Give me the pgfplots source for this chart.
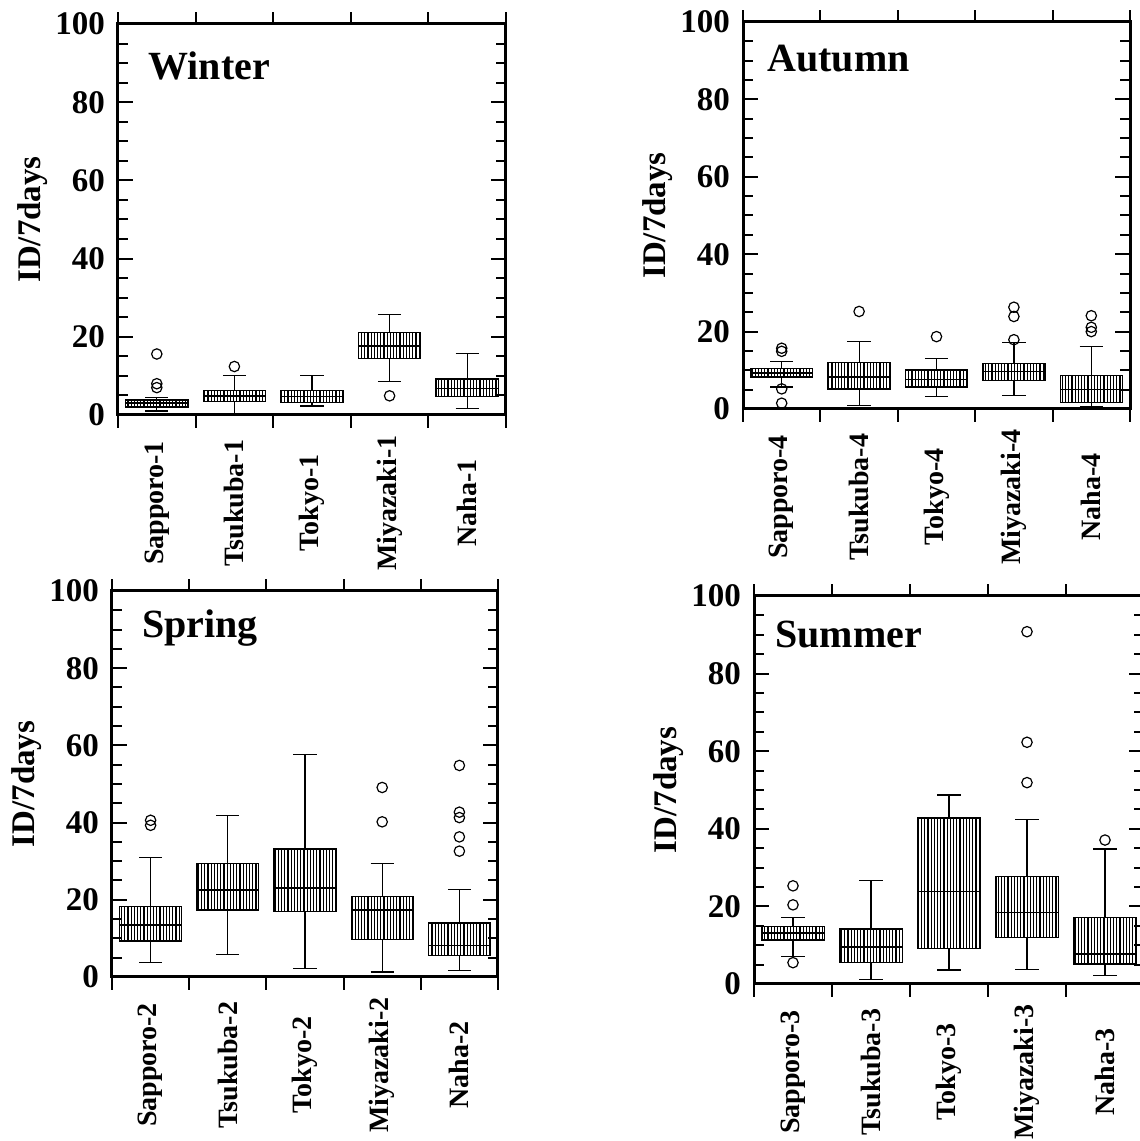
\documentclass[border=0pt]{standalone}
\usepackage{fontspec}
\setmainfont{Liberation Serif}
\usepackage{pgfplots}
\pgfplotsset{compat=1.18}
\usepgfplotslibrary{statistics}
\usetikzlibrary{patterns.meta}

\tikzset{ttl/.style={anchor=base west, inner sep=0pt, font=\bfseries\fontsize{20}{20}\selectfont}}
\pgfplotsset{
  panel/.style={
    scale only axis, anchor=south west,
    xmin=0.5, xmax=5.5, ymin=0, ymax=100,
    clip=false,
    axis line style={line width=1.5pt},
    ytick={0,20,...,100}, minor y tick num=3,
    tick align=inside,
    major tick length=7.5pt, minor tick length=5pt,
    tick style={black, line width=1pt},
    xtick={0.5,1.5,...,5.5},
    x tick label as interval,
    xtick style={draw=none},
    /pgf/number format/assume math mode=true,
    yticklabel style={font=\bfseries\fontsize{16.5}{16.5}\selectfont, xshift=-3pt},
    xticklabel style={font=\bfseries\fontsize{14}{14}\selectfont, rotate=90, anchor=center},
    xticklabel shift=44pt,
    ylabel={ID/7days},
    every axis y label/.style={at={(axis description cs:-0.22,0.5)}, rotate=90, anchor=center,
      font=\bfseries\fontsize{16.5}{16.5}\selectfont},
    boxplot/draw direction=y,
    boxplot/box extend=0.8,
    boxplot/whisker extend=0.3,
    boxplot/every box/.style={draw=black, line width=0.7pt,
      pattern={Lines[angle=90,distance=1.6pt,line width=0.55pt]}},
    boxplot/every whisker/.style={black, line width=0.6pt},
    boxplot/every median/.style={black, line width=0.8pt},
  },
  bp/.style={black, mark=o, mark size=2.6pt, mark options={line width=0.6pt}},
}

\begin{document}
\begin{tikzpicture}
\useasboundingbox (0,0) rectangle (570pt,570.5pt);

% Winter
\begin{axis}[panel, at={(59pt,363pt)}, width=194pt, height=195.5pt,
  xticklabels={Sapporo-1,Tsukuba-1,Tokyo-1,Miyazaki-1,Naha-1}]
\addplot[bp, boxplot prepared={lower whisker=1.0, lower quartile=2.0, median=3.0, upper quartile=3.8, upper whisker=4.4, draw position=1}]
  table[row sep=\\, y index=0] {data\\ 15.6\\ 8.0\\ 7.0\\};
\addplot[bp, boxplot prepared={lower whisker=0.4, lower quartile=3.4, median=4.9, upper quartile=6.2, upper whisker=10.1, draw position=2}]
  table[row sep=\\, y index=0] {data\\ 12.4\\};
\addplot[bp, boxplot prepared={lower whisker=2.3, lower quartile=3.2, median=4.7, upper quartile=6.2, upper whisker=10.2, draw position=3}]
  coordinates {};
\addplot[bp, boxplot prepared={lower whisker=8.5, lower quartile=14.5, median=17.7, upper quartile=21.1, upper whisker=25.6, draw position=4}]
  table[row sep=\\, y index=0] {data\\ 4.9\\};
\addplot[bp, boxplot prepared={lower whisker=1.7, lower quartile=4.7, median=6.8, upper quartile=9.2, upper whisker=15.8, draw position=5}]
  coordinates {};
\pgfplotsinvokeforeach{0.5,1.5,2.5,3.5,4.5,5.5}{
  \draw[line width=1pt] (axis cs:#1,0) -- ++(0pt,-6.5pt) (axis cs:#1,100) -- ++(0pt,6pt);}
\node[ttl, xshift=15pt, yshift=-28pt] at (rel axis cs:0,1) {Winter};
\end{axis}

% Autumn
\begin{axis}[panel, at={(371.5pt,366pt)}, width=193.5pt, height=193.5pt,
  xticklabels={Sapporo-4,Tsukuba-4,Tokyo-4,Miyazaki-4,Naha-4}]
\addplot[bp, boxplot prepared={lower whisker=5.7, lower quartile=8.3, median=9.3, upper quartile=10.4, upper whisker=12.3, draw position=1}]
  table[row sep=\\, y index=0] {data\\ 15.7\\ 14.9\\ 5.2\\ 1.5\\};
\addplot[bp, boxplot prepared={lower whisker=0.9, lower quartile=5.2, median=8.2, upper quartile=12.0, upper whisker=17.5, draw position=2}]
  table[row sep=\\, y index=0] {data\\ 25.2\\};
\addplot[bp, boxplot prepared={lower whisker=3.3, lower quartile=5.7, median=7.6, upper quartile=10.1, upper whisker=13.0, draw position=3}]
  table[row sep=\\, y index=0] {data\\ 18.7\\};
\addplot[bp, boxplot prepared={lower whisker=3.4, lower quartile=7.4, median=9.7, upper quartile=11.7, upper whisker=17.2, draw position=4}]
  table[row sep=\\, y index=0] {data\\ 26.3\\ 23.9\\ 17.9\\};
\addplot[bp, boxplot prepared={lower whisker=0.5, lower quartile=1.7, median=5.0, upper quartile=8.7, upper whisker=16.2, draw position=5}]
  table[row sep=\\, y index=0] {data\\ 24.1\\ 21.1\\ 20.0\\};
\pgfplotsinvokeforeach{0.5,1.5,2.5,3.5,4.5,5.5}{
  \draw[line width=1pt] (axis cs:#1,0) -- ++(0pt,-6.5pt) (axis cs:#1,100) -- ++(0pt,6pt);}
\node[ttl, xshift=12pt, yshift=-25pt] at (rel axis cs:0,1) {Autumn};
\end{axis}

% Spring
\begin{axis}[panel, at={(56pt,82pt)}, width=193pt, height=193pt,
  xticklabels={Sapporo-2,Tsukuba-2,Tokyo-2,Miyazaki-2,Naha-2}]
\addplot[bp, boxplot prepared={lower whisker=3.7, lower quartile=9.3, median=13.4, upper quartile=18.3, upper whisker=30.9, draw position=1}]
  table[row sep=\\, y index=0] {data\\ 40.6\\ 39.3\\};
\addplot[bp, boxplot prepared={lower whisker=5.8, lower quartile=17.4, median=22.6, upper quartile=29.4, upper whisker=41.9, draw position=2}]
  coordinates {};
\addplot[bp, boxplot prepared={lower whisker=2.2, lower quartile=17.0, median=23.1, upper quartile=33.2, upper whisker=57.6, draw position=3}]
  coordinates {};
\addplot[bp, boxplot prepared={lower whisker=1.3, lower quartile=9.7, median=17.3, upper quartile=20.9, upper whisker=29.4, draw position=4}]
  table[row sep=\\, y index=0] {data\\ 49.1\\ 40.2\\};
\addplot[bp, boxplot prepared={lower whisker=1.7, lower quartile=5.6, median=8.2, upper quartile=14.0, upper whisker=22.6, draw position=5}]
  table[row sep=\\, y index=0] {data\\ 54.8\\ 42.7\\ 41.3\\ 36.3\\ 32.6\\};
\pgfplotsinvokeforeach{0.5,1.5,2.5,3.5,4.5,5.5}{
  \draw[line width=1pt] (axis cs:#1,0) -- ++(0pt,-6.5pt) (axis cs:#1,100) -- ++(0pt,6pt);}
\node[ttl, xshift=15pt, yshift=-23.5pt] at (rel axis cs:0,1) {Spring};
\end{axis}

% Summer
\begin{axis}[panel, at={(377pt,78.5pt)}, width=195pt, height=194pt,
  xticklabels={Sapporo-3,Tsukuba-3,Tokyo-3,Miyazaki-3,Naha-3}]
\addplot[bp, boxplot prepared={lower whisker=7.0, lower quartile=11.3, median=13.1, upper quartile=14.8, upper whisker=17.2, draw position=1}]
  table[row sep=\\, y index=0] {data\\ 25.3\\ 20.4\\ 5.5\\};
\addplot[bp, boxplot prepared={lower whisker=1.2, lower quartile=5.6, median=9.5, upper quartile=14.2, upper whisker=26.6, draw position=2}]
  coordinates {};
\addplot[bp, boxplot prepared={lower whisker=3.6, lower quartile=9.2, median=23.8, upper quartile=42.8, upper whisker=48.7, draw position=3}]
  coordinates {};
\addplot[bp, boxplot prepared={lower whisker=3.8, lower quartile=12.0, median=18.4, upper quartile=27.7, upper whisker=42.4, draw position=4}]
  table[row sep=\\, y index=0] {data\\ 90.8\\ 62.3\\ 51.9\\};
\addplot[bp, boxplot prepared={lower whisker=2.1, lower quartile=5.2, median=7.7, upper quartile=17.2, upper whisker=34.8, draw position=5}]
  table[row sep=\\, y index=0] {data\\ 37.1\\};
\pgfplotsinvokeforeach{0.5,1.5,2.5,3.5,4.5,5.5}{
  \draw[line width=1pt] (axis cs:#1,0) -- ++(0pt,-6.5pt) (axis cs:#1,100) -- ++(0pt,6pt);}
\node[ttl, xshift=10.5pt, yshift=-26pt] at (rel axis cs:0,1) {Summer};
\end{axis}
\end{tikzpicture}
\end{document}
